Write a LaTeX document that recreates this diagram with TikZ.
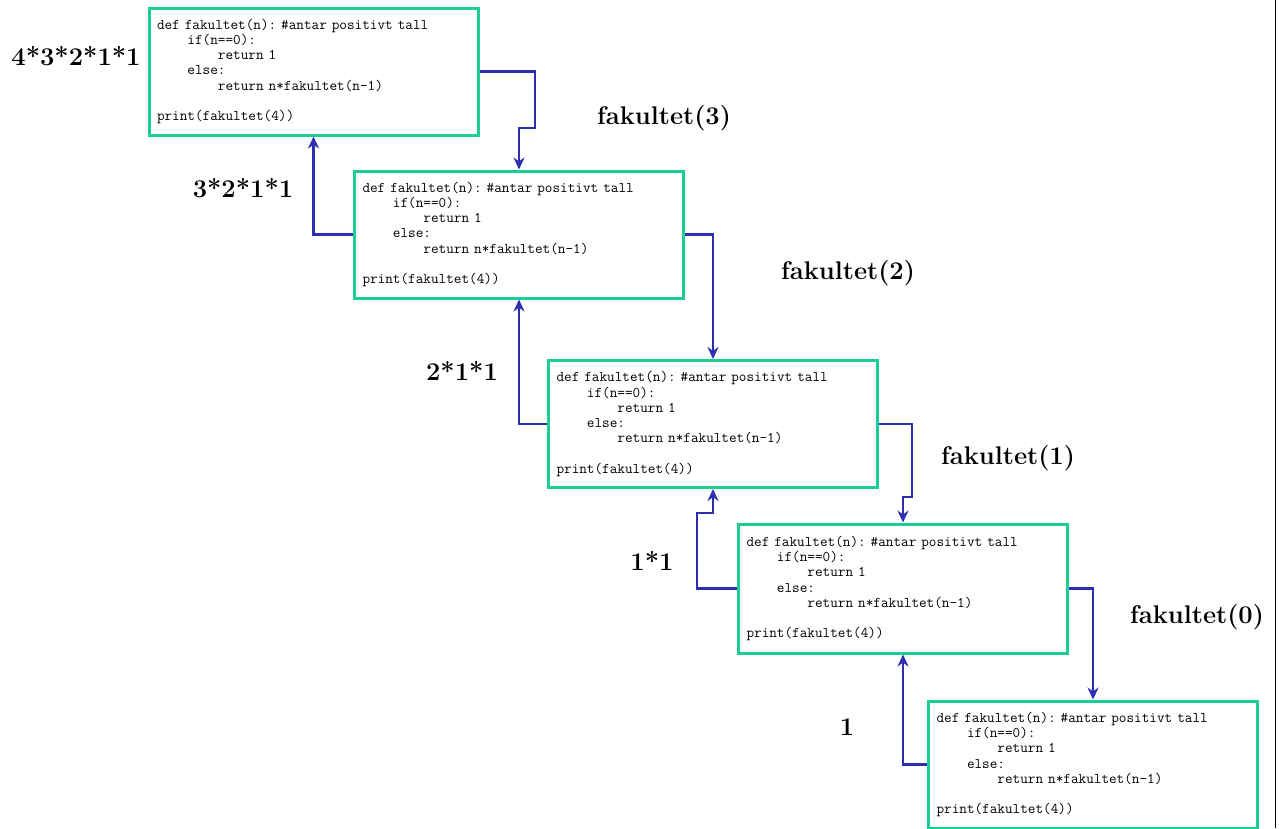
\documentclass[tikz,border=0pt]{standalone}
\usepackage{fontspec}
\usetikzlibrary{arrows.meta}
\definecolor{boxgreen}{RGB}{28,206,150}
\definecolor{arrblue}{RGB}{46,46,178}
\newcommand{\codetext}{def~fakultet(n):~\#antar~positivt~tall\\
\phantom{xxxx}if(n==0):\\
\phantom{xxxxxxxx}return~1\\
\phantom{xxxx}else:\\
\phantom{xxxxxxxx}return~n*fakultet(n-1)\\[15.2pt]
print(fakultet(4))}
\tikzset{
  codebox/.style={draw=boxgreen, line width=3pt, fill=white,
    minimum width=329pt, minimum height=127pt, inner sep=0pt,
    text width=313pt, align=left,
    font={\ttfamily\fontsize{14.8}{15.2}\selectfont}},
  arr/.style={draw=arrblue, line width=2.5pt, -{Stealth[length=12pt,width=11pt]}},
  lbl/.style={font=\fontsize{25.5}{30}\selectfont\bfseries, inner sep=0pt, anchor=base},
  edge line/.style={draw=black, line width=1pt}
}
\begin{document}
\begin{tikzpicture}[x=1pt,y=-1pt]
\useasboundingbox (0,0) rectangle (1279,828);
% code boxes
\node[codebox] (b1) at (313.5,71.5) {\codetext};
\node[codebox] (b2) at (519,234.5) {\codetext};
\node[codebox] (b3) at (713,424) {\codetext};
\node[codebox, minimum height=129pt] (b4) at (903,588.5) {\codetext};
\node[codebox] (b5) at (1093,764.5) {\codetext};
% bend points
\coordinate (a1) at (535,128);
\coordinate (a3) at (912,497);
\coordinate (r3) at (697,513);
% calls
\draw[arr] (b1.east) -| (a1) -| (b2.north);
\draw[arr] (b2.east) -| (b3.north);
\draw[arr] (b3.east) -| (a3) -| (b4.north);
\draw[arr] (b4.east) -| (b5.north);
% returns
\draw[arr] (b2.west) -| (b1.south);
\draw[arr] (b3.west) -| (b2.south);
\draw[arr] (b4.west) -| (r3) -| (b3.south);
\draw[arr] (b5.west) -| (b4.south);
% labels
\node[lbl] (v4) at (76,65) {4*3*2*1*1};
\node[lbl] (f3) at (664,124) {fakultet(3)};
\node[lbl] (v3) at (243,197) {3*2*1*1};
\node[lbl] (f2) at (848,279) {fakultet(2)};
\node[lbl] (v2) at (462,380) {2*1*1};
\node[lbl] (f1) at (1008,464) {fakultet(1)};
\node[lbl] (v1) at (652,570) {1*1};
\node[lbl] (f0) at (1197,623) {fakultet(0)};
\node[lbl] (v0) at (847,735) {1};
% right edge line
\coordinate (et) at (1275,0);
\coordinate (eb) at (1275,828);
\draw[edge line] (et) -- (eb);
\end{tikzpicture}
\end{document}
